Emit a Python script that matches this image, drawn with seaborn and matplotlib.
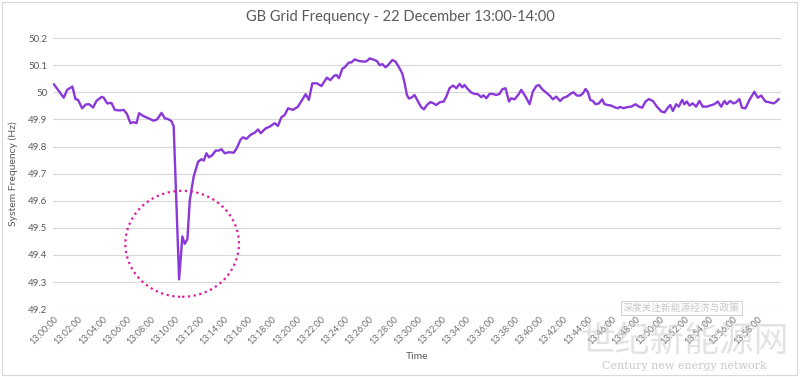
import numpy as np
import pandas as pd
import matplotlib.pyplot as plt
import seaborn as sns
from matplotlib.patches import Ellipse, Rectangle

# seconds after 13:00:00
seconds = [0, 49, 66, 92, 107, 120, 140, 158, 175, 194, 211, 236, 247, 264, 285,
           302, 326, 346, 362, 379, 396, 409, 422, 441, 466, 494, 511, 533, 549,
           565, 582, 593, 620, 636, 648, 661, 673, 692, 714, 730, 742, 755, 768,
           785, 801, 816, 829, 846, 867, 890, 906, 923, 936, 953, 973, 994, 1010,
           1024, 1048, 1068, 1093, 1109, 1126, 1142, 1159, 1183, 1208, 1230, 1246,
           1262, 1279, 1302, 1324, 1351, 1368, 1386, 1398, 1411, 1428, 1439, 1460,
           1472, 1488, 1513, 1538, 1549, 1563, 1587, 1599, 1612, 1625, 1642, 1658,
           1675, 1691, 1708, 1724, 1736, 1747, 1757, 1769, 1785, 1802, 1818, 1831,
           1846, 1863, 1879, 1892, 1909, 1929, 1942, 1958, 1975, 1992, 2008, 2021,
           2032, 2049, 2066, 2082, 2098, 2115, 2126, 2140, 2156, 2172, 2189, 2205,
           2219, 2235, 2252, 2263, 2280, 2301, 2313, 2334, 2354, 2370, 2387, 2400,
           2417, 2436, 2456, 2469, 2486, 2505, 2522, 2538, 2560, 2571, 2588, 2605,
           2618, 2631, 2642, 2654, 2667, 2680, 2697, 2713, 2725, 2741, 2758, 2774,
           2790, 2802, 2819, 2835, 2857, 2878, 2895, 2911, 2928, 2944, 2964, 2984,
           3006, 3022, 3038, 3050, 3063, 3079, 3092, 3109, 3120, 3132, 3145, 3161,
           3178, 3194, 3211, 3230, 3247, 3268, 3285, 3302, 3318, 3330, 3346, 3363,
           3376, 3392, 3405, 3422, 3442, 3466, 3483, 3500, 3521, 3541, 3561, 3571,
           3587]

frequency = [50.030, 49.980, 50.009, 50.021, 49.975, 49.972, 49.941, 49.955, 49.956,
             49.944, 49.968, 49.983, 49.980, 49.959, 49.961, 49.935, 49.933, 49.935,
             49.920, 49.886, 49.890, 49.886, 49.923, 49.913, 49.905, 49.895, 49.900,
             49.924, 49.904, 49.901, 49.894, 49.875, 49.310, 49.468, 49.441, 49.458,
             49.603, 49.689, 49.744, 49.753, 49.748, 49.775, 49.760, 49.769, 49.785,
             49.785, 49.790, 49.775, 49.779, 49.777, 49.795, 49.824, 49.834, 49.828,
             49.843, 49.851, 49.863, 49.849, 49.867, 49.873, 49.886, 49.876, 49.908,
             49.916, 49.941, 49.935, 49.947, 49.974, 49.993, 49.972, 50.033, 50.033,
             50.023, 50.054, 50.045, 50.060, 50.064, 50.052, 50.088, 50.092, 50.110,
             50.110, 50.121, 50.115, 50.113, 50.115, 50.125, 50.119, 50.115, 50.100,
             50.104, 50.092, 50.104, 50.119, 50.113, 50.092, 50.070, 50.033, 49.990,
             49.977, 49.980, 49.990, 49.966, 49.945, 49.937, 49.953, 49.964, 49.959,
             49.953, 49.963, 49.966, 49.984, 50.015, 50.025, 50.015, 50.031, 50.018,
             50.027, 50.011, 49.999, 49.994, 49.993, 49.982, 49.989, 49.978, 49.994,
             49.994, 49.990, 49.994, 50.011, 50.015, 49.966, 49.978, 49.974, 49.994,
             50.009, 49.984, 49.956, 50.002, 50.023, 50.027, 50.011, 49.999, 49.986,
             49.974, 49.984, 49.968, 49.980, 49.984, 49.996, 50.000, 49.988, 49.988,
             49.996, 50.012, 50.002, 49.972, 49.968, 49.956, 49.959, 49.974, 49.956,
             49.953, 49.951, 49.945, 49.941, 49.946, 49.941, 49.945, 49.947, 49.956,
             49.947, 49.943, 49.966, 49.975, 49.968, 49.947, 49.929, 49.926, 49.943,
             49.953, 49.931, 49.956, 49.947, 49.972, 49.956, 49.966, 49.951, 49.959,
             49.947, 49.968, 49.947, 49.947, 49.951, 49.956, 49.966, 49.947, 49.968,
             49.956, 49.968, 49.959, 49.963, 49.975, 49.943, 49.941, 49.972, 50.002,
             49.980, 49.988, 49.966, 49.963, 49.959, 49.963, 49.975]

tick_seconds = list(range(0, 3600, 120))
tick_labels = [f"13:{m:02d}:00" for m in range(0, 60, 2)]
y_ticks = [49.2, 49.3, 49.4, 49.5, 49.6, 49.7, 49.8, 49.9, 50.0, 50.1, 50.2]
y_labels = ["49.2", "49.3", "49.4", "49.5", "49.6", "49.7", "49.8", "49.9", "50", "50.1", "50.2"]

df = pd.DataFrame({"seconds": seconds, "frequency": frequency})

sns.set_style("white")
plt.rcParams['font.family'] = ['Lato', 'DejaVu Sans']
grey = '#595959'

fig = plt.figure(figsize=(8, 3.77), dpi=100)
ax = fig.add_axes([0.066, 0.180, 0.910, 0.719])

sns.lineplot(data=df, x="seconds", y="frequency", ax=ax, color='#8A38DA', linewidth=1.7)

# dotted circle around the dip
ax.add_patch(Ellipse((635, 49.441), 562, 0.391, fill=False, edgecolor='#E0189C',
                     linestyle=(0, (1, 1.6)), linewidth=1.6, zorder=3))

ax.set_xlim(-5, 3597)
ax.set_ylim(49.2, 50.2)
ax.set_yticks(y_ticks)
ax.set_yticklabels(y_labels, fontsize=7, color=grey)
ax.set_xticks(tick_seconds)
ax.set_xticklabels(tick_labels, fontsize=6.5, color='#707070', rotation=45,
                   ha='right', rotation_mode='anchor')
ax.tick_params(axis='both', length=0, pad=4)
ax.grid(axis='y', color='#D9D9D9', linewidth=0.8)
ax.grid(axis='x', visible=False)
for s in ax.spines.values():
    s.set_visible(False)

ax.set_xlabel("Time", fontsize=7.5, color=grey, labelpad=4)
ax.set_ylabel("System Frequency (Hz)", fontsize=7.5, color=grey, labelpad=7)
fig.text(0.5, 0.955, "GB Grid Frequency - 22 December 13:00-14:00",
         ha='center', va='center', fontsize=10.5, color=grey)

# chart border
fig.patches.append(Rectangle((0.002, 0.004), 0.994, 0.992, transform=fig.transFigure,
                             fill=False, edgecolor='#D9D9D9', linewidth=0.8))

# watermark
wm = '#C8C8C8'
fig.text(0.852, 0.183, "深度关注新能源经济与政策", ha='center', va='center', fontsize=7,
         color=wm, family=['Noto Sans CJK SC', 'DejaVu Sans'],
         bbox=dict(facecolor='none', edgecolor=wm, linewidth=0.6, pad=1.5))
fig.text(0.855, 0.095, "世纪新能源网", ha='center', va='center', fontsize=25,
         color=wm, alpha=0.5, family=['Noto Sans CJK SC', 'DejaVu Sans'])
fig.text(0.855, 0.028, "Century new energy network", ha='center', va='center',
         fontsize=8, color=wm, family='DejaVu Serif')

fig.savefig("out.png", dpi=100)
